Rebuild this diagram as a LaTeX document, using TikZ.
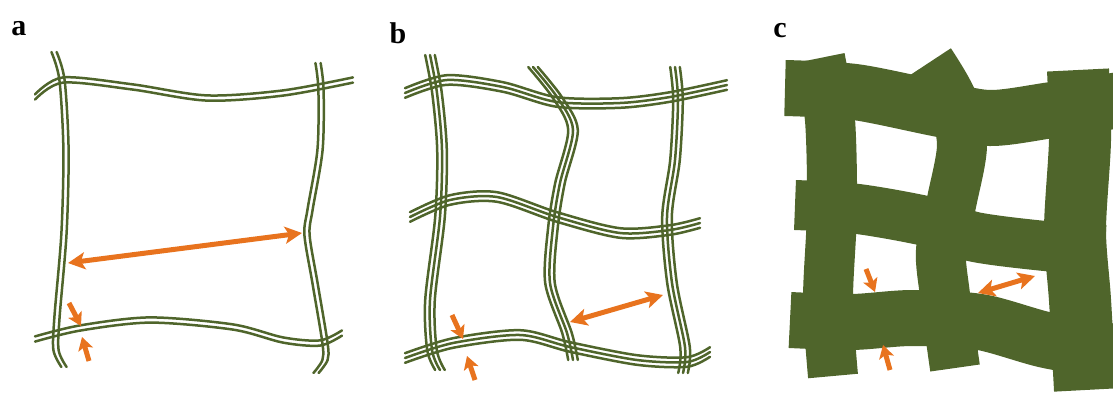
\documentclass[tikz,border=0pt]{standalone}
\usepackage{fontspec}
\setmainfont{Liberation Serif}
\usetikzlibrary{arrows.meta}
\definecolor{fibra}{HTML}{4F652B}
\definecolor{seta}{HTML}{E8731E}
\tikzset{
  fio/.style={draw=fibra, line width=2.5pt, line cap=round},
  faixa/.style={draw=fibra, line width=#1, line cap=butt},
  seta longa/.style={draw=seta, line width=5pt, {Stealth[length=17pt,width=17pt,inset=4pt]}-{Stealth[length=17pt,width=17pt,inset=4pt]}},
  seta curta/.style={draw=seta, line width=5pt, -{Stealth[length=13pt,width=15pt,inset=3pt]}},
  rotulo/.style={font=\fontsize{30}{30}\selectfont\bfseries, inner sep=0pt}
}
\begin{document}
\begin{tikzpicture}[x=1pt, y=-1pt]
\useasboundingbox (0,0) rectangle (1113,394);
% Painel a
\node[rotulo, anchor=base] (rotA) at (19,35) {a};
\foreach \s in {-2.6,2.6} {
  \draw[fio, yshift=\s] plot[smooth] coordinates {(35,97) (63,80) (133,87) (207,98) (283,93) (353,80)};
  \draw[fio, yshift=\s] plot[smooth] coordinates {(35,339) (80,328) (150,320) (233,327) (283,340) (320,343) (342,333)};
  \draw[fio, xshift=\s] plot[smooth] coordinates {(54,52) (62,80) (66,150) (64,233) (57,317) (56,350) (64,367)};
  \draw[fio, xshift=\s] plot[smooth] coordinates {(318,63) (321,90) (320,150) (310,210) (307,235) (315,283) (325,343) (325,360) (316,373)};
}
\draw[seta longa] (68,263) -- (302,233);
\draw[seta curta] (69,303) -- (81,326);
\draw[seta curta] (89,361) -- (82,337);
% Painel b
\begin{scope}[xshift=370pt]
\node[rotulo, anchor=base] (rotB) at (28,43) {b};
\foreach \s in {-4.8,0,4.8} {
  \draw[fio, yshift=\s] plot[smooth] coordinates {(35,93) (77,80) (133,87) (187,102) (250,103) (300,97) (357,85)};
  \draw[fio, yshift=\s] plot[smooth] coordinates {(40,217) (80,200) (127,197) (187,217) (250,233) (300,230) (330,223)};
  \draw[fio, yshift=\s] plot[smooth] coordinates {(35,358) (83,343) (150,335) (200,347) (267,360) (317,362) (340,352)};
  \draw[fio, xshift=\s] plot[smooth] coordinates {(60,55) (67,93) (72,150) (70,217) (60,300) (62,350) (70,370)};
  \draw[fio, xshift=\s] plot[smooth] coordinates {(163,67) (187,97) (203,130) (190,183) (183,227) (180,283) (197,333) (203,360)};
  \draw[fio, xshift=\s] plot[smooth] coordinates {(305,67) (308,100) (305,160) (297,217) (302,283) (315,347) (313,373)};
}
\draw[seta longa] (200,322) -- (293,295);
\draw[seta curta] (82,315) -- (93,339);
\draw[seta curta] (105,380) -- (97,356);
\end{scope}
% Painel c
\begin{scope}[xshift=740pt]
\node[rotulo, anchor=base] (rotC) at (40,37) {c};
\draw[faixa=56pt] plot[smooth] coordinates {(45,88) (115,92) (195,108) (250,118) (312,110) (380,100)};
\draw[faixa=50pt] plot[smooth] coordinates {(55,205) (118,209) (190,222) (235,237) (305,246) (365,250)};
\draw[faixa=56pt] plot[smooth] coordinates {(50,320) (112,322) (172,318) (240,322) (306,340) (375,352)};
\draw[faixa=50pt] plot[smooth] coordinates {(80,58) (90,120) (92,210) (88,300) (93,376)};
\draw[faixa=50pt] plot[smooth] coordinates {(190,62) (212,100) (222,145) (212,200) (201,250) (205,295) (215,368)};
\draw[faixa=62pt] plot[smooth] coordinates {(338,70) (340,140) (335,230) (340,300) (345,390)};
\draw[seta longa] (238,293) -- (295,276);
\draw[seta curta] (126,269) -- (135,292);
\draw[seta curta] (150,370) -- (143,345);
\end{scope}
\end{tikzpicture}
\end{document}
